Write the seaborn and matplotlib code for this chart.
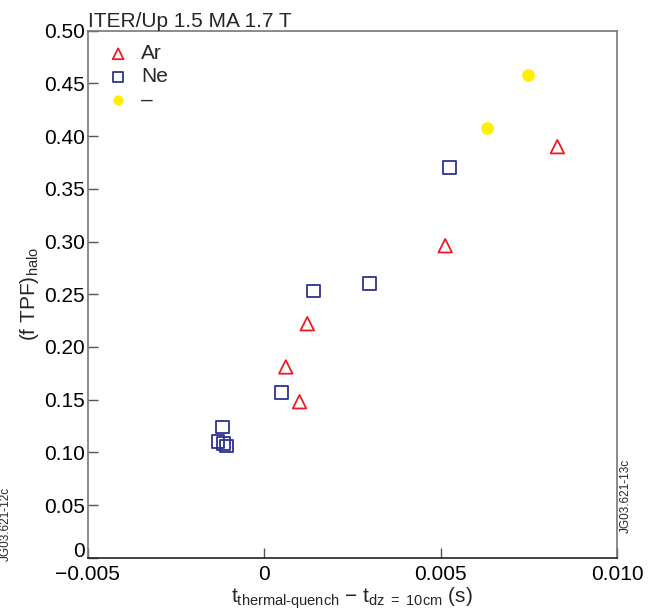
import matplotlib
matplotlib.use("Agg")
import matplotlib.pyplot as plt
import matplotlib.transforms as mtransforms
import seaborn as sns
import pandas as pd

# Data
ar_x = [0.00831, 0.00513, 0.00122, 0.00061, 0.00100]
ar_y = [0.390, 0.296, 0.222, 0.181, 0.148]
ne_x = [0.00298, 0.00139, 0.00525, 0.00049, -0.00119, -0.00131, -0.00115, -0.00107]
ne_y = [0.260, 0.253, 0.370, 0.157, 0.124, 0.110, 0.108, 0.106]
other_x = [0.00632, 0.00749]
other_y = [0.408, 0.458]

labels = ["Ar", "Ne", "\u2013"]
x_ticks = [-0.005, 0, 0.005, 0.010]
x_ticklabels = ["\u22120.005", "0", "0.005", "0.010"]
y_ticks = [0, 0.05, 0.10, 0.15, 0.20, 0.25, 0.30, 0.35, 0.40, 0.45, 0.50]
y_ticklabels = ["0", "0.05", "0.10", "0.15", "0.20", "0.25", "0.30", "0.35", "0.40", "0.45", "0.50"]

sns.set_theme(style="white")
plt.rcParams['font.family'] = ['Liberation Sans', 'DejaVu Sans']
plt.rcParams['mathtext.fontset'] = 'custom'
plt.rcParams['mathtext.rm'] = 'Liberation Sans'
plt.rcParams['mathtext.it'] = 'Liberation Sans'
plt.rcParams['mathtext.default'] = 'regular'

RED = "#ec1c24"
BLUE = "#2e3192"
YELLOW = "#fff000"

fig = plt.figure(figsize=(6.56, 6.13), dpi=100)
ax = fig.add_axes([0.134, 0.0902, 0.8065, 0.8597])

df_ar = pd.DataFrame({"x": ar_x, "y": ar_y})
df_ne = pd.DataFrame({"x": ne_x, "y": ne_y})
df_ot = pd.DataFrame({"x": other_x, "y": other_y})

sns.scatterplot(data=df_ar, x="x", y="y", ax=ax, marker="^", s=95,
                facecolor="none", edgecolor=RED, linewidth=1.3, label=labels[0])
sns.scatterplot(data=df_ne, x="x", y="y", ax=ax, marker="s", s=85,
                facecolor="none", edgecolor=BLUE, linewidth=1.3, label=labels[1])
sns.scatterplot(data=df_ot, x="x", y="y", ax=ax, marker="o", s=85,
                color=YELLOW, edgecolor=YELLOW, linewidth=0, label=labels[2])

ax.set_xlim(-0.005, 0.010)
ax.set_ylim(0, 0.5)
ax.set_xticks(x_ticks)
ax.set_xticklabels(x_ticklabels)
ax.set_yticks(y_ticks)
ax.set_yticklabels(y_ticklabels)
ax.tick_params(axis="both", which="both", direction="in", length=7, width=1,
               color="#555555", labelsize=15, pad=2, bottom=True, left=True,
               top=False, right=False, labelcolor="black")
ax.tick_params(axis="x", pad=5)

# raise the "0" y tick label slightly, as in the reference
for lab in ax.get_yticklabels():
    if lab.get_text() == "0":
        lab.set_transform(lab.get_transform() +
                          mtransforms.ScaledTranslation(0, 6 / 72, fig.dpi_scale_trans))

for side in ["left", "right", "top"]:
    ax.spines[side].set_color("#777777")
    ax.spines[side].set_linewidth(1.2)
ax.spines["bottom"].set_color("#222222")
ax.spines["bottom"].set_linewidth(1.2)

ax.set_xlabel(r"$t_{thermal\text{-}quench}$ $-$ $t_{dz\ =\ 10cm}$ (s)",
              fontsize=15, labelpad=1)
ax.set_ylabel(r"(f TPF)$_{halo}$", fontsize=15, labelpad=2)

ax.text(0.0, 1.0, "ITER/Up 1.5 MA 1.7 T", transform=ax.transAxes,
        fontsize=15, ha="left", va="bottom")

leg = ax.legend(loc="upper left", frameon=False, fontsize=15,
                bbox_to_anchor=(0.0, 1.0), handletextpad=0.3,
                labelspacing=0.2, borderaxespad=0.25, markerscale=0.8,
                handlelength=1.6)

fig.text(0.945, 0.13, "JG03.621-13c", rotation=90, fontsize=8.5, ha="left", va="bottom")
fig.text(0.0, 0.085, "JG03.621-12c", rotation=90, fontsize=8.5, ha="left", va="bottom")

fig.savefig("out.png", dpi=100)
